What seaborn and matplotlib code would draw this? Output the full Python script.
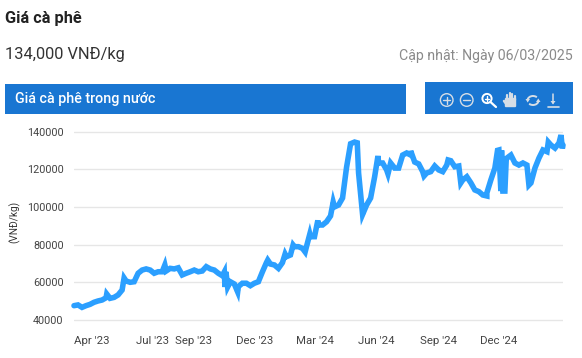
import matplotlib as mpl

mpl.use('Agg')
import matplotlib.pyplot as plt
import matplotlib.patches as mpatches
import pandas as pd
import seaborn as sns

# price every 6 days
prices = [
    47600, 48000, 46700, 47600, 48300, 49400, 50100, 50600, 51800, 51500,
    52000, 53300, 55900, 60700, 60000, 60300, 64800, 66500, 67100, 66500,
    64800, 65600, 65600, 66000, 67400, 67100, 67700, 63900, 64800, 65600,
    66500, 65600, 66000, 68300, 67100, 66500, 64800, 63500, 63900, 60300,
    59100, 57700, 59500, 59500, 58200, 59500, 60300, 65500, 70400, 69700,
    69200, 67400, 70400, 73600, 74500, 78900, 78900, 78000, 78900, 84200,
    84200, 90400, 90400, 92100, 95200, 100000, 101000, 104700, 121000, 133500,
    134400, 118000, 96000, 101000, 104700, 115900, 123300, 123300, 119600, 123300,
    120600, 120600, 127500, 128600, 127500, 123800, 122800, 118700, 118000, 118700,
    121700, 119600, 118700, 122200, 124500, 121300, 121700, 114300, 116000, 112800,
    109000, 108100, 106300, 107400, 114300, 120600, 130200, 108400, 125900, 127500,
    123300, 122200, 123300, 122200, 112700, 120600, 125900, 130200, 129300, 132800,
    131200, 133900, 132800,
]
# sharp moves between the 6 day steps
extra_dates = [
    '2023-04-24', '2023-05-20', '2023-07-20', '2023-10-17', '2023-10-18', '2023-10-19',
    '2023-10-22', '2023-11-06', '2023-12-21', '2024-01-16', '2024-01-28', '2024-02-15',
    '2024-02-22', '2024-03-05', '2024-03-28', '2024-05-03', '2024-06-03', '2024-06-18',
    '2024-07-22', '2024-08-11', '2024-09-16', '2024-10-05', '2024-11-13', '2024-11-29',
    '2024-12-04', '2024-12-05', '2024-12-10', '2024-12-12', '2025-01-15', '2025-02-13',
    '2025-03-04', '2025-03-06',
]
extra_prices = [
    53800, 62300, 69200, 65500, 57500, 65500,
    57500, 54900, 71800, 75000, 79800, 76100,
    85600, 92800, 102600, 134000, 127000, 117500,
    129700, 116400, 124900, 112700, 105800, 130000,
    108400, 130000, 108400, 125000, 111600, 134400,
    138100, 131000,
]

y_ticks = [40000, 60000, 80000, 100000, 120000, 140000]
x_ticks = ['2023-04-01', '2023-07-01', '2023-09-01', '2023-12-01', '2024-03-01', '2024-06-01', '2024-09-01', '2024-12-01']
x_labels = ["Apr '23", "Jul '23", "Sep '23", "Dec '23", "Mar '24", "Jun '24", "Sep '24", "Dec '24"]

BLUE = '#1976d2'
ICON = '#d6dee6'

df = pd.concat([
    pd.DataFrame({'date': pd.date_range('2023-03-06', periods=len(prices), freq='6D'), 'price': prices}),
    pd.DataFrame({'date': pd.to_datetime(extra_dates), 'price': extra_prices}),
]).sort_values('date')

sns.set_theme(style='white')
plt.rcParams['font.family'] = ['Roboto', 'DejaVu Sans']

figure = plt.figure(figsize=(5.82, 3.58), dpi=100)

# page layer in pixel coordinates: header, bars and toolbar icons
page = figure.add_axes([0, 0, 1, 1])
page.set_xlim(0, 582)
page.set_ylim(358, 0)
page.axis('off')
page.add_patch(mpatches.Rectangle((5, 84), 401, 30, color=BLUE, lw=0))
page.add_patch(mpatches.Rectangle((425, 82), 148, 32, color=BLUE, lw=0))
page.text(5, 18, 'Giá cà phê', fontsize=11.8, fontweight='bold', color='#222222', va='center')
page.text(5, 54, '134,000 VNĐ/kg', fontsize=11.8, color='#333333', va='center')
page.text(573, 56, 'Cập nhật: Ngày 06/03/2025', fontsize=10.2, color='#8a8a8a', va='center', ha='right')
page.text(15, 98.5, 'Giá cà phê trong nước', fontsize=10.3, fontweight='medium', color='white', va='center')

for cx in (446.7, 466.7):
    page.add_patch(mpatches.Circle((cx, 100), 6.3, fill=False, ec=ICON, lw=1))
    page.plot([cx - 3.5, cx + 3.5], [100, 100], color=ICON, lw=1)
page.plot([446.7, 446.7], [96.5, 103.5], color=ICON, lw=1)
# zoom glass
page.add_patch(mpatches.Circle((487, 98.5), 4.6, fill=False, ec='white', lw=1.4))
page.plot([490.5, 496], [102, 107], color='white', lw=1.6)
page.plot([484.8, 489.2], [98.5, 98.5], color='white', lw=1)
page.plot([487, 487], [96.3, 100.7], color='white', lw=1)
# hand
page.add_patch(mpatches.FancyBboxPatch((506, 99), 9, 7, boxstyle='round,pad=1.2', fc=ICON, ec='none'))
for fx, top in ((507, 95), (509.5, 93), (512, 93.5), (514.6, 95.5)):
    page.plot([fx, fx], [top, 100], color=ICON, lw=1.6)
page.plot([504, 507], [101, 105], color=ICON, lw=1.8)
# refresh
page.add_patch(mpatches.Arc((533, 100.5), 11, 9, theta1=190, theta2=320, ec=ICON, lw=1.4))
page.add_patch(mpatches.Arc((533, 100.5), 11, 9, theta1=10, theta2=140, ec=ICON, lw=1.4))
page.add_patch(mpatches.Polygon([[525.5, 99], [530, 99], [527.7, 102.5]], color=ICON, lw=0))
page.add_patch(mpatches.Polygon([[536, 102], [540.5, 102], [538.3, 98.5]], color=ICON, lw=0))
# download
page.plot([553, 553], [94, 103], color=ICON, lw=1.1)
page.add_patch(mpatches.Polygon([[550.5, 101], [555.5, 101], [553, 104.5]], color=ICON, lw=0))
page.plot([547.5, 558.5], [106.5, 106.5], color=ICON, lw=1.2)

# chart area: 40000 sits at pixel row 320, 140000 at row 131.5
axis = figure.add_axes([74 / 582, (358 - 325) / 358, 489 / 582, 200 / 358])
axis.patch.set_alpha(0)
sns.lineplot(data=df, x='date', y='price', color='#2b9fff', lw=4.0, ax=axis, estimator=None, solid_joinstyle='miter', clip_on=False)
axis.set_xlim(pd.Timestamp('2023-03-06'), pd.Timestamp('2025-03-07'))
axis.set_ylim(37350, 143450)
axis.set_yticks(y_ticks)
axis.set_yticklabels([str(v) for v in y_ticks])
axis.set_xticks(pd.to_datetime(x_ticks))
axis.set_xticklabels(x_labels)
axis.tick_params(axis='y', length=0, labelsize=7.8, labelcolor='#444444', pad=7.5)
axis.tick_params(axis='x', length=0, labelsize=8.2, labelcolor='#444444', pad=8)
axis.grid(axis='y', color='#e6e6e6', lw=1)
axis.set_axisbelow(True)
sns.despine(ax=axis, left=True, bottom=True)
axis.set_xlabel('')
axis.set_ylabel('(VNĐ/kg)', fontsize=7.2, color='#333333')
axis.yaxis.set_label_coords((20 - 74) / 489, (325 - 222) / 200)

figure.savefig('out.png', dpi=100)
